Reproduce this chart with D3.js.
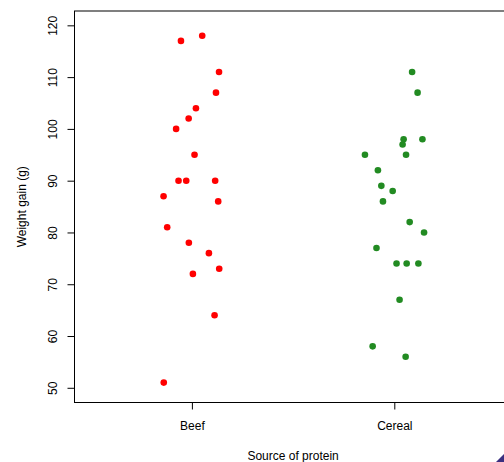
<!DOCTYPE html>
<html>
<head>
<meta charset="utf-8">
<script src="https://cdn.jsdelivr.net/npm/d3@7"></script>
<style>
html,body{margin:0;padding:0;background:#fff;overflow:hidden;}
svg{display:block;}
text{font-family:"Liberation Sans",Arial,sans-serif;}
</style>
</head>
<body>
<svg id="chart" width="504" height="462"></svg>
<script>
const categories = ["Beef", "Cereal"];
const colors = ["#FF0000", "#228B22"];
const beefValues  = [118,117,111,107,104,102,100,95,90,90,90,87,86,81,78,76,73,72,64,51];
const beefJitter  = [0.051,-0.054,0.134,0.119,0.020,-0.016,-0.078,0.013,-0.066,-0.028,0.115,-0.140,0.130,-0.122,-0.015,0.084,0.135,0.005,0.112,-0.139];
const cerealValues = [111,107,98,98,97,95,95,92,89,88,86,82,80,77,74,74,74,67,58,56];
const cerealJitter = [0.088,0.115,0.046,0.139,0.041,-0.145,0.058,-0.081,-0.064,-0.008,-0.056,0.076,0.147,-0.088,0.011,0.061,0.119,0.026,-0.107,0.056];
const yTicks = [50,60,70,80,90,100,110,120];
const xTitle = "Source of protein";
const yTitle = "Weight gain (g)";

const svg = d3.select("#chart");
const pLeft = 74.5, pRight = 511.7, pTop = 11, pBottom = 402.5;

const x = d3.scaleLinear().domain([0.42, 2.58]).range([pLeft, pRight]);
const y = d3.scaleLinear().domain([47.16, 122.77]).range([pBottom, pTop]);

const points = [];
beefValues.forEach((v,i)=>points.push({g:0, v, j:beefJitter[i]}));
cerealValues.forEach((v,i)=>points.push({g:1, v, j:cerealJitter[i]}));

// box
svg.append("rect").attr("x", pLeft).attr("y", pTop).attr("width", pRight-pLeft).attr("height", pBottom-pTop)
  .attr("fill","none").attr("stroke","#000").attr("stroke-width",1);

// y axis
const yAxis = d3.axisLeft(y).tickValues(yTicks).tickSize(7).tickPadding(0).tickFormat(d3.format("d"));
const yg = svg.append("g").attr("transform",`translate(${pLeft},0)`).call(yAxis);
yg.select(".domain").remove();
yg.selectAll(".tick line").attr("stroke","#000");
yg.selectAll(".tick text").attr("transform","rotate(-90)").attr("x",0).attr("y",-22)
  .attr("dy","0.35em").attr("text-anchor","middle").style("font-size","12px").attr("fill","#000");

// x axis
const xAxis = d3.axisBottom(x).tickValues([1,2]).tickSize(7).tickPadding(0).tickFormat((d)=>categories[d-1]);
const xg = svg.append("g").attr("transform",`translate(0,${pBottom})`).call(xAxis);
xg.select(".domain").remove();
xg.selectAll(".tick line").attr("stroke","#000");
xg.selectAll(".tick text").attr("y",27).attr("dy","0").style("font-size","12px").attr("fill","#000");

// titles
svg.append("text").attr("x", (pLeft+pRight)/2).attr("y", 460).attr("text-anchor","middle")
  .style("font-size","12px").text(xTitle);
svg.append("text").attr("transform",`translate(26,${(pTop+pBottom)/2}) rotate(-90)`).attr("text-anchor","middle")
  .style("font-size","12px").text(yTitle);

// points
svg.append("g").selectAll("circle").data(points).join("circle")
  .attr("cx", d=>x(d.g+1+d.j)).attr("cy", d=>y(d.v)).attr("r",3.3)
  .attr("fill", d=>colors[d.g]);

// corner mark
svg.append("path").attr("d","M504,454L504,462L496,462Z").attr("fill","#3b2f80");
</script>
</body>
</html>
